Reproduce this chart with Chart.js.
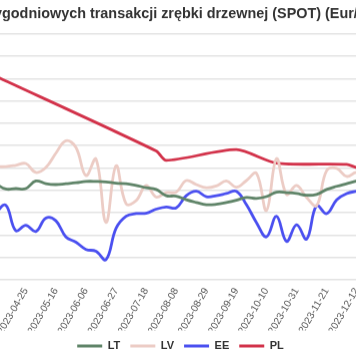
<!DOCTYPE html>
<html><head><meta charset="utf-8">
<script src="https://cdn.jsdelivr.net/npm/chart.js@4.4.0/dist/chart.umd.min.js"></script>
<style>
html,body{margin:0;padding:0;overflow:hidden;background:#fff;width:356px;height:364px;}
#wrap{position:absolute;left:-36px;top:-5px;width:433px;height:365.5px;}
</style></head><body>
<div id="wrap"><canvas id="c"></canvas></div>
<script>
const dates = ["2023-04-04","2023-04-11","2023-04-18","2023-04-25","2023-05-02","2023-05-09","2023-05-16","2023-05-23","2023-05-30","2023-06-06","2023-06-13","2023-06-20","2023-06-27","2023-07-04","2023-07-11","2023-07-18","2023-07-25","2023-08-01","2023-08-08","2023-08-15","2023-08-22","2023-08-29","2023-09-05","2023-09-12","2023-09-19","2023-09-26","2023-10-03","2023-10-10","2023-10-17","2023-10-24","2023-10-31","2023-11-07","2023-11-14","2023-11-21","2023-11-28","2023-12-05","2023-12-12","2023-12-19","2023-12-26"];
const LT = [21.5,20.3,20.4,20.4,22.1,21.5,21.3,21.5,21.7,22.0,22.0,21.9,21.6,21.5,21.1,20.6,20.2,18.8,18.7,17.9,17.3,16.8,16.9,17.3,17.8,18.4,18.2,18.6,19.6,19.5,19.3,18.9,19.1,20.2,20.9,21.5,22.1,22.5,22.8];
const LV = [25.3,25.3,25.6,26.0,24.0,25.1,28.3,31.1,29.6,23.3,27.0,12.8,25.5,17.0,17.7,21.1,18.5,19.5,19.6,22.2,21.3,20.6,21.0,22.1,20.7,22.2,23.8,15.5,27.1,19.1,21.1,18.4,16.6,24.4,24.9,23.1,24.0,22.5,23.5];
const EE = [15.0,16.7,11.0,12.2,10.8,13.8,13.2,9.6,8.4,6.8,6.4,4.5,11.5,14.2,14.8,14.9,15.8,16.3,16.1,18.8,19.8,18.6,18.8,19.3,19.8,16.8,12.8,9.6,14.2,8.6,12.3,9.1,16.6,14.8,17.9,19.3,19.8,20.2,20.0];
const PL = [45.5,null,null,null,null,null,null,null,null,null,null,null,null,null,null,null,28.8,26.7,null,null,null,null,null,null,29.1,null,null,null,26.1,null,null,null,null,null,null,25.8,25.1,null,24.6];
const seriesNames = ["LT","LV","EE","PL"];
const seriesColors = ["#5f8468","#ecccc5","#4b50f0","#d2324a"];
const yTicks = {min:0, max:55, step:5};
const title = "Cotygodniowych transakcji zrębki drzewnej (SPOT) (Eur/MWh)";

const FONT = "'Liberation Sans', Arial, Helvetica, sans-serif";
const mk = (name, data, color, t) => ({
  label: name, data: data, borderColor: color, backgroundColor: color,
  borderWidth: 2.8, pointRadius: 0, pointHoverRadius: 0, tension: t, spanGaps: true, fill: false
});
const sets = [LT, LV, EE, PL].map((d, i) => mk(seriesNames[i], d, seriesColors[i], i === 3 ? 0.25 : 0.4));

new Chart(document.getElementById('c'), {
  type: 'line',
  data: { labels: dates, datasets: sets },
  options: {
    responsive: true, maintainAspectRatio: false, animation: false,
    layout: { padding: 0 },
    plugins: {
      title: { display: true, text: title, align: 'end', color: '#333',
               font: { family: FONT, size: 14.4, weight: 'bold' }, padding: { top: 10, bottom: 11.4 } },
      legend: { position: 'bottom', labels: { usePointStyle: true, pointStyle: 'line', pointStyleWidth: 25,
               color: '#333', font: { family: FONT, size: 11, weight: 'bold' }, padding: 10 } },
      tooltip: { enabled: false }
    },
    scales: {
      x: {
        grid: { display: false, drawTicks: false }, border: { display: false },
        ticks: { autoSkip: false, minRotation: 60, maxRotation: 60, padding: 6, color: '#555',
                 font: { family: FONT, size: 10 },
                 callback: function(v, i) { return i % 3 === 0 ? this.getLabelForValue(v) : null; } },
        afterFit: (s) => { s.paddingLeft = 0; s.paddingRight = 20.2; s.height = 50.5; }
      },
      y: {
        min: yTicks.min, max: yTicks.max,
        grid: { color: '#e3e3e3', lineWidth: 1.5, drawTicks: true, tickLength: 6 }, border: { display: false },
        ticks: { stepSize: yTicks.step, color: '#555', font: { family: FONT, size: 10 }, padding: 3 },
        afterFit: (s) => { s.width = 31.7; }
      }
    }
  }
});
</script>
</body></html>
